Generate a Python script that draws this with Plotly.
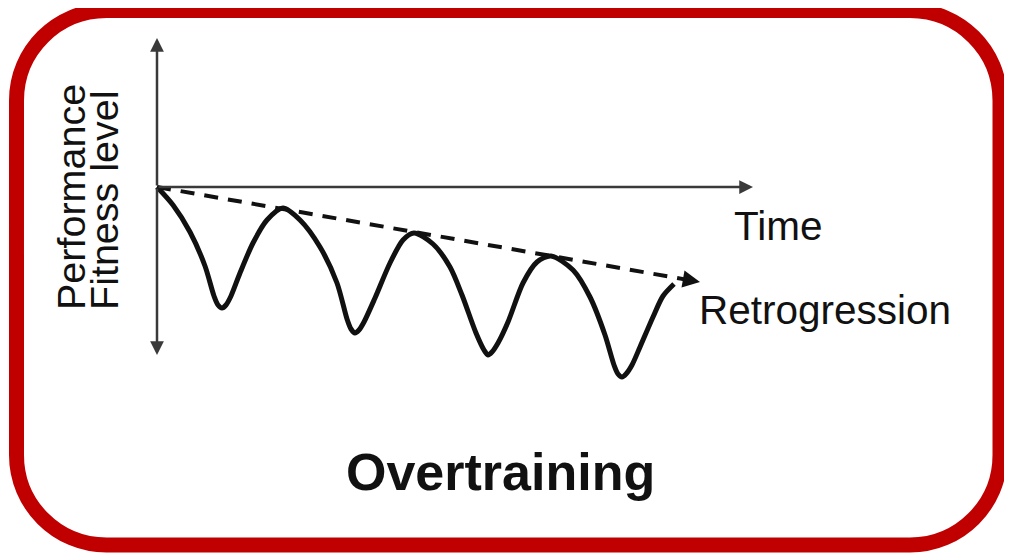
import plotly.graph_objects as go

# ---- data (time, performance) in diagram units ----
time_pts = [0, 1.6, 3.3, 4.8, 5.7, 6.1, 6.5, 6.9, 7.4, 8.3, 9.6, 11.0, 12.6, 14.3, 16.3, 18.0, 19.0, 19.4,
            19.8, 20.2, 20.7, 21.8, 23.3, 24.6, 25.7, 27.6, 29.3, 30.5, 31.9, 32.7, 33.1, 33.5, 34.1,
            35.1, 36.6, 38.0, 39.4, 41.6, 43.3, 44.8, 45.7, 46.1, 46.5, 46.9, 47.5, 48.3, 49.6, 50.6, 51.7]
perf_pts = [0, -1.8, -4.5, -7.9, -10.9, -11.8, -12.1, -11.8, -10.9, -8.6, -5.6, -3.3, -2.1, -3.3, -6.0, -9.6,
            -13.2, -14.2, -14.6, -14.3, -13.5, -11.1, -7.6, -5.3, -4.6, -5.7, -8.0, -10.8, -14.6, -16.3,
            -16.8, -16.5, -15.6, -13.5, -9.6, -7.5, -6.9, -8.3, -11.0, -14.8, -17.8, -18.7, -19.0, -18.7,
            -17.8, -16.0, -13.0, -10.9, -9.7]

trend_time = [0, 54.3]
trend_perf = [0, -9.5]

time_axis_end = 59.6
perf_axis_top = 14.9
perf_axis_bottom = -16.8

labels_y = ["Performance", "Fitness level"]
label_time = "Time"
label_trend = "Retrogression"
title = "Overtraining"

# page body has an 8px margin: the figure covers pixels 8..1012 x 8..555
X_RANGE = [-14.9, 85.5]
Y_RANGE = [-36.8, 17.9]

AXIS_COL = "#3a3a3a"
RED = "#C00000"
FONT = "Liberation Sans, Arial, sans-serif"

fig = go.Figure()

slope = trend_perf[1] / trend_time[1]
# dashed trend line
fig.add_trace(go.Scatter(x=[trend_time[0], trend_time[1] - 1.5],
                         y=[trend_perf[0], trend_perf[1] - 1.5 * slope],
                         mode="lines", line=dict(color="#111", width=4, dash="14px,10px"),
                         hoverinfo="skip", showlegend=False))
# wavy performance curve
fig.add_trace(go.Scatter(x=time_pts, y=perf_pts, mode="lines",
                         line=dict(color="#111", width=5, shape="spline", smoothing=0.8),
                         hoverinfo="skip", showlegend=False))

def arrow(x, y, ax, ay, color, width, size):
    fig.add_annotation(x=x, y=y, ax=ax, ay=ay, xref="x", yref="y", axref="x", ayref="y",
                       text="", showarrow=True, arrowhead=2, arrowwidth=width,
                       arrowsize=size, arrowcolor=color, standoff=0, startstandoff=0)

# axes
arrow(time_axis_end, 0, 0, 0, AXIS_COL, 2.5, 1.1)
arrow(0, perf_axis_top, 0, 0, AXIS_COL, 2.5, 1.1)
arrow(0, perf_axis_bottom, 0, 0, AXIS_COL, 2.5, 1.1)
# trend arrow head
arrow(trend_time[1], trend_perf[1], trend_time[1] - 2.0, trend_perf[1] - 2.0 * slope, "#111", 3, 1.15)

# text labels
fig.add_annotation(x=-8.6, y=-12.5, xref="x", yref="y", text=labels_y[0], textangle=-90,
                   showarrow=False, xanchor="center", yanchor="bottom",
                   font=dict(family=FONT, size=39.5, color="#111"))
fig.add_annotation(x=-5.3, y=-12.5, xref="x", yref="y", text=labels_y[1], textangle=-90,
                   showarrow=False, xanchor="center", yanchor="bottom",
                   font=dict(family=FONT, size=39.5, color="#111"))
fig.add_annotation(x=57.5, y=-3.9, xref="x", yref="y", text=label_time, showarrow=False,
                   xanchor="left", yanchor="middle", font=dict(family=FONT, size=40.5, color="#111"))
fig.add_annotation(x=54.0, y=-12.3, xref="x", yref="y", text=label_trend, showarrow=False,
                   xanchor="left", yanchor="middle", font=dict(family=FONT, size=40.5, color="#111"))
fig.add_annotation(x=34.3, y=-28.5, xref="x", yref="y", text="<b>" + title + "</b>", showarrow=False,
                   xanchor="center", yanchor="middle", font=dict(family=FONT, size=52, color="#111"))

# rounded red frame
x0, x1, y0, y1, r = -14.05, 84.3, -35.8, 17.65, 9.0
k = 0.5523 * r
path = (f"M {x0 + r},{y1} L {x1 - r},{y1} "
        f"C {x1 - r + k},{y1} {x1},{y1 - r + k} {x1},{y1 - r} "
        f"L {x1},{y0 + r} "
        f"C {x1},{y0 + r - k} {x1 - r + k},{y0} {x1 - r},{y0} "
        f"L {x0 + r},{y0} "
        f"C {x0 + r - k},{y0} {x0},{y0 + r - k} {x0},{y0 + r} "
        f"L {x0},{y1 - r} "
        f"C {x0},{y1 - r + k} {x0 + r - k},{y1} {x0 + r},{y1} Z")
fig.add_shape(type="path", path=path, xref="x", yref="y", line=dict(color=RED, width=15),
              layer="above")

fig.update_layout(width=1004, height=547, margin=dict(l=0, r=0, t=0, b=0),
                  paper_bgcolor="white", plot_bgcolor="white", showlegend=False,
                  xaxis=dict(range=X_RANGE, visible=False, fixedrange=True),
                  yaxis=dict(range=Y_RANGE, visible=False, fixedrange=True))

fig.write_html("out.html", config={"displayModeBar": False})
